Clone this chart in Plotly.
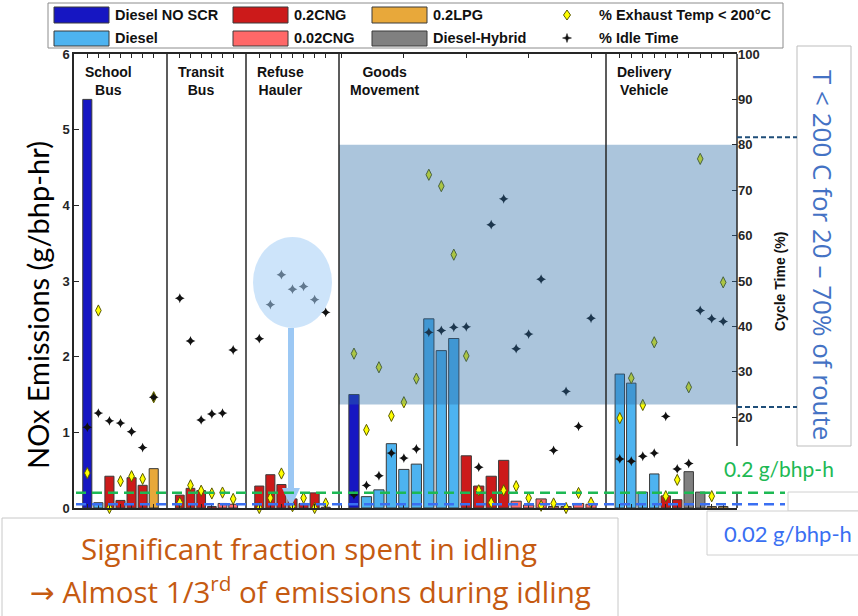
import plotly.graph_objects as go

# ---------------- data ----------------
groups = ["School<br>Bus", "Transit<br>Bus", "Refuse<br>Hauler", "Goods<br>Movement", "Delivery<br>Vehicle"]

school_nox  = [5.40, 0.07, 0.42, 0.10, 0.40, 0.30, 0.52]
school_fuel = ["Diesel NO SCR", "Diesel", "0.2CNG", "0.2CNG", "0.2CNG", "0.2CNG", "0.2LPG"]
school_exh  = [7.7, 43.5, 0.0, 5.9, 7.0, 6.4, 24.4]
school_idle = [17.8, 20.9, 19.2, 18.7, 16.8, 13.3, 24.4]

transit_nox  = [0.17, 0.26, 0.23, 0.02, 0.06, 0.05]
transit_fuel = ["0.2CNG", "0.2CNG", "0.2CNG", "0.2CNG", "0.02CNG", "0.02CNG"]
transit_exh  = [1.2, 5.0, 3.8, 3.2, 3.4, 2.0]
transit_idle = [46.2, 36.8, 19.4, 20.7, 20.9, 34.8]

refuse_nox  = [0.29, 0.44, 0.31, 0.12, 0.06, 0.20, 0.01]
refuse_fuel = ["0.2CNG"] * 7
refuse_exh  = [0.0, 2.2, 7.6, 0.4, 2.2, 0.0, 1.0]
refuse_idle = [37.3, 44.8, 51.4, 48.2, 48.8, 45.9, 43.1]

goods_nox  = [1.50, 0.15, 0.24, 0.85, 0.51, 0.58, 2.50, 2.08, 2.24, 0.69,
              0.29, 0.42, 0.63, 0.09, 0.04, 0.12, 0.02, 0.02, 0.06, 0.05]
goods_fuel = ["Diesel NO SCR"] + ["Diesel"] * 8 + ["0.2CNG"] * 4 + ["0.02CNG"] * 7
goods_exh  = [34.0, 17.2, 31.0, 20.3, 23.3, 28.5, 73.4, 70.9, 55.8, 33.5,
              3.9, 1.2, 3.9, 4.8, 2.2, 0.5, 1.0, 0.0, 3.3, 1.2]
goods_idle = [2.9, 5.0, 7.1, 12.1, 11.0, 13.0, 38.7, 39.1, 39.8, 39.9,
              9.0, 62.4, 68.1, 35.1, 38.3, 50.4, 12.7, 25.7, 18.0, 41.8]

delivery_nox  = [1.77, 1.65, 0.21, 0.45, 0.16, 0.11, 0.48, 0.21, 0.02, 0.02]
delivery_fuel = ["Diesel"] * 4 + ["0.2CNG"] * 2 + ["Diesel-Hybrid"] * 2 + ["0.2LPG"] * 2
delivery_exh  = [19.8, 28.6, 22.7, 36.5, 2.6, 6.2, 26.6, 76.9, 2.6, 49.7]
delivery_idle = [10.8, 10.3, 11.4, 12.1, 20.2, 8.6, 9.8, 43.5, 41.7, 41.1]

nox_limits = [0.2, 0.02]
shade_range = [22.8, 80]          # % cycle time band
fuel_types = ["Diesel NO SCR", "Diesel", "0.2CNG", "0.02CNG", "0.2LPG", "Diesel-Hybrid"]
right_ticks = [20, 30, 40, 50, 60, 70, 80, 90, 100]

# ---------------- layout constants ----------------
W, H = 858, 616
PL, PR, PT, PB = 74, 737, 54, 508
panel_width = [93, 79, 93, 267, 131]
tick_step = [1, 1, 1, 5, 1]
fuel_color = {"Diesel NO SCR": "#1616c2", "Diesel": "#4db3f0", "0.2CNG": "#cc1a1a",
              "0.02CNG": "#ff6868", "0.2LPG": "#e8a83a", "Diesel-Hybrid": "#808080"}
AX = "#262626"


def PX(xp):
    return (xp - PL) / (PR - PL)


def PY(yp):
    return (PB - yp) / (PB - PT)


panels = [
    (school_nox, school_fuel, school_exh, school_idle),
    (transit_nox, transit_fuel, transit_exh, transit_idle),
    (refuse_nox, refuse_fuel, refuse_exh, refuse_idle),
    (goods_nox, goods_fuel, goods_exh, goods_idle),
    (delivery_nox, delivery_fuel, delivery_exh, delivery_idle),
]

edges = [0]
for w in panel_width:
    edges.append(edges[-1] + w)

bar_x, bar_w, tickvals = [], [], []
for k, (nox, fuel, exh, idle) in enumerate(panels):
    n = len(nox)
    s = panel_width[k] / (n + 1.4)
    xs = [edges[k] + (1.2 + i) * s for i in range(n)]
    bar_x.append(xs)
    bar_w.append(0.82 * s)
    if tick_step[k] == 1:
        tickvals += xs
    else:
        tickvals += [edges[k] + (0.2 + m) * s for m in range(0, n + 1, tick_step[k])]

fig = go.Figure()

for f in fuel_types:
    xs, ys, ws = [], [], []
    for k, (nox, fuel, exh, idle) in enumerate(panels):
        for i in range(len(nox)):
            if fuel[i] == f:
                xs.append(bar_x[k][i]); ys.append(nox[i]); ws.append(bar_w[k])
    fig.add_trace(go.Bar(x=xs, y=ys, width=ws, name=f,
                         marker=dict(color=fuel_color[f], line=dict(color="#3a3a3a", width=1))))

all_x = [x for xs in bar_x for x in xs]
all_exh = [v for p in panels for v in p[2]]
all_idle = [v for p in panels for v in p[3]]

fig.add_trace(go.Scatter(x=all_x, y=all_exh, yaxis="y2", mode="markers", cliponaxis=False,
                         name="% Exhaust Temp < 200°C",
                         marker=dict(symbol="diamond-tall", size=8, color="#ffff00",
                                     line=dict(color="#5a5a00", width=1))))
fig.add_trace(go.Scatter(x=all_x, y=all_idle, yaxis="y2", mode="markers", cliponaxis=False,
                         name="% Idle Time",
                         marker=dict(symbol="star-diamond", size=7, color="#111111")))

tickfont = dict(family="Liberation Sans", size=13, color=AX, weight="bold")
fig.update_layout(
    width=W, height=H, margin=dict(l=PL, r=W - PR, t=PT, b=H - PB),
    plot_bgcolor="white", paper_bgcolor="white", barmode="overlay", showlegend=False,
    xaxis=dict(range=[0, edges[-1]], showline=True, linecolor=AX, linewidth=1.5, mirror="ticks",
               ticks="inside", tickvals=tickvals, ticklen=4, tickcolor=AX, showticklabels=False,
               showgrid=False, zeroline=False),
    yaxis=dict(range=[0, 6], dtick=1, ticks="inside", ticklen=5, tickcolor=AX, showline=True,
               linecolor=AX, linewidth=1.5, showgrid=False, zeroline=False, tickfont=tickfont),
    yaxis2=dict(overlaying="y", side="right", range=[0, 100], tickvals=right_ticks, ticks="inside",
                ticklen=5, tickcolor=AX, showline=False, showgrid=False,
                zeroline=False, tickfont=tickfont),
)

shapes = []
# shaded band of exhaust temperature
shapes.append(dict(type="rect", xref="x", yref="y2", x0=edges[3], x1=edges[-1],
                   y0=shade_range[0], y1=shade_range[1], fillcolor="rgba(46,111,168,0.40)",
                   line=dict(width=0), layer="above"))
# highlight circle and arrow
shapes.append(dict(type="circle", xref="paper", yref="paper", x0=PX(253), x1=PX(332),
                   y0=PY(328), y1=PY(237), fillcolor="rgba(164,206,246,0.55)",
                   line=dict(width=0), layer="above"))
shapes.append(dict(type="line", xref="paper", yref="paper", x0=PX(291), x1=PX(291),
                   y0=PY(328), y1=PY(489), line=dict(color="#9cc8f4", width=6), layer="above"))
shapes.append(dict(type="path", xref="paper", yref="paper",
                   path=f"M {PX(282)},{PY(488)} L {PX(300)},{PY(488)} L {PX(291)},{PY(507)} Z",
                   fillcolor="#9cc8f4", line=dict(width=0), layer="above"))
# panel dividers
for e in edges[1:-1]:
    shapes.append(dict(type="line", xref="x", yref="paper", x0=e, x1=e, y0=0, y1=1,
                       line=dict(color=AX, width=1.5), layer="above"))
# right axis line (interrupted by the callout box)
shapes.append(dict(type="line", xref="paper", yref="paper", x0=1, x1=1, y0=PY(446), y1=1,
                   line=dict(color=AX, width=1.5), layer="above"))
shapes.append(dict(type="line", xref="paper", yref="paper", x0=1, x1=1, y0=0, y1=PY(492),
                   line=dict(color=AX, width=1.5), layer="above"))
# overlay boxes
shapes.append(dict(type="rect", xref="paper", yref="paper", x0=PX(797), x1=PX(851),
                   y0=PY(446), y1=PY(46), fillcolor="white", line=dict(color="#bdbdbd", width=1),
                   layer="above"))
shapes.append(dict(type="rect", xref="paper", yref="paper", x0=PX(788), x1=PX(862),
                   y0=PY(511), y1=PY(492), fillcolor="white", line=dict(color="#d0d0d0", width=1),
                   layer="above"))
shapes.append(dict(type="rect", xref="paper", yref="paper", x0=PX(707), x1=PX(862),
                   y0=PY(555), y1=PY(511), fillcolor="white", line=dict(color="#d0d0d0", width=1),
                   layer="above"))
shapes.append(dict(type="rect", xref="paper", yref="paper", x0=PX(2), x1=PX(618),
                   y0=PY(622), y1=PY(518), fillcolor="white", line=dict(color="#c8c8c8", width=1),
                   layer="above"))
# limit lines
for val, col in zip(nox_limits, ["#1db954", "#3a6ff2"]):
    yv = val if val >= 0.1 else 0.05
    shapes.append(dict(type="line", xref="paper", yref="y", x0=PX(76), x1=PX(785), y0=yv, y1=yv,
                       line=dict(color=col, width=2.5, dash="10px,6px"), layer="above"))
# navy bracket dashes
for v in [4.90, 1.335]:
    shapes.append(dict(type="line", xref="paper", yref="y", x0=1.0, x1=PX(797), y0=v, y1=v,
                       line=dict(color="#1f4e79", width=2, dash="5px,3px"), layer="above"))

# legend box + swatches + glyphs
shapes.append(dict(type="rect", xref="paper", yref="paper", x0=PX(48), x1=PX(783),
                   y0=PY(48), y1=PY(3), fillcolor="white", line=dict(color="#8c8c8c", width=1),
                   layer="above"))
legend_cells = [("Diesel NO SCR", 0, 0), ("Diesel", 0, 1), ("0.2CNG", 1, 0),
                ("0.02CNG", 1, 1), ("0.2LPG", 2, 0), ("Diesel-Hybrid", 2, 1)]
col_x = [54, 233, 372]
row_y = [(7, 23), (31, 46)]
annotations = []
lfont = dict(family="Liberation Sans", size=14.5, color="#111", weight="bold")
for name, c, r in legend_cells:
    shapes.append(dict(type="rect", xref="paper", yref="paper", x0=PX(col_x[c]), x1=PX(col_x[c] + 55),
                       y0=PY(row_y[r][1]), y1=PY(row_y[r][0]), fillcolor=fuel_color[name],
                       line=dict(color="#3a3a3a", width=1), layer="above"))
    annotations.append(dict(text=name, xref="paper", yref="paper", x=PX(col_x[c] + 59),
                            y=PY(sum(row_y[r]) / 2), xanchor="left", yanchor="middle", showarrow=False,
                            font=lfont))
gx, gy1, gy2 = 567, 15, 38
diamond = (f"M {PX(gx)},{PY(gy1-5)} L {PX(gx+3.5)},{PY(gy1)} L {PX(gx)},{PY(gy1+5)} "
           f"L {PX(gx-3.5)},{PY(gy1)} Z")
shapes.append(dict(type="path", xref="paper", yref="paper", path=diamond, fillcolor="#ffff00",
                   line=dict(color="#5a5a00", width=1), layer="above"))
star_pts = [(0, -4.5), (1.1, -1.1), (4.5, 0), (1.1, 1.1), (0, 4.5), (-1.1, 1.1), (-4.5, 0), (-1.1, -1.1)]
star = "M " + " L ".join(f"{PX(gx+dx)},{PY(gy2+dy)}" for dx, dy in star_pts) + " Z"
shapes.append(dict(type="path", xref="paper", yref="paper", path=star, fillcolor="#111",
                   line=dict(color="#111", width=0.5), layer="above"))
for txt, r in [("% Exhaust Temp < 200°C", 0), ("% Idle Time", 1)]:
    annotations.append(dict(text=txt, xref="paper", yref="paper", x=PX(597),
                            y=PY(sum(row_y[r]) / 2), xanchor="left", yanchor="middle", showarrow=False,
                            font=lfont))

# group labels
for k, g in enumerate(groups):
    annotations.append(dict(text=g, xref="x", yref="paper", x=edges[k] + 9, y=PY(62),
                            xanchor="left", yanchor="top", align="center", showarrow=False,
                            font=dict(family="Liberation Sans", size=14, color="#111", weight="bold")))


def note(text, xp, yp, size, color, family="Open Sans", angle=0, weight="normal"):
    annotations.append(dict(text=text, xref="paper", yref="paper", x=PX(xp), y=PY(yp),
                            xanchor="center", yanchor="middle", textangle=angle, showarrow=False,
                            font=dict(family=family, size=size, color=color, weight=weight)))


# axis titles
note("NOx Emissions (g/bhp-hr)", 37, 305, 29, "#000", family="Lato", angle=-90)
note("Cycle Time (%)", 780, 282, 14, "#111", family="Liberation Sans", angle=-90, weight="bold")
# callouts
note("T < 200 C for 20 – 70% of route", 823, 255, 26, "#4472c4", angle=90)
note("0.2 g/bhp-h", 779, 468, 21, "#1db954", family="Lato")
note("0.02 g/bhp-h", 788, 533, 22, "#3a6ff2", family="Lato")
note("Significant fraction spent in idling", 309, 548, 29.5, "#c55a11")
note("<span style='font-family:DejaVu Sans'>→</span> Almost 1/3<sup>rd</sup> of emissions during idling",
     310, 590, 29.5, "#c55a11")

fig.update_layout(shapes=shapes, annotations=annotations)
fig.write_html("out.html")
